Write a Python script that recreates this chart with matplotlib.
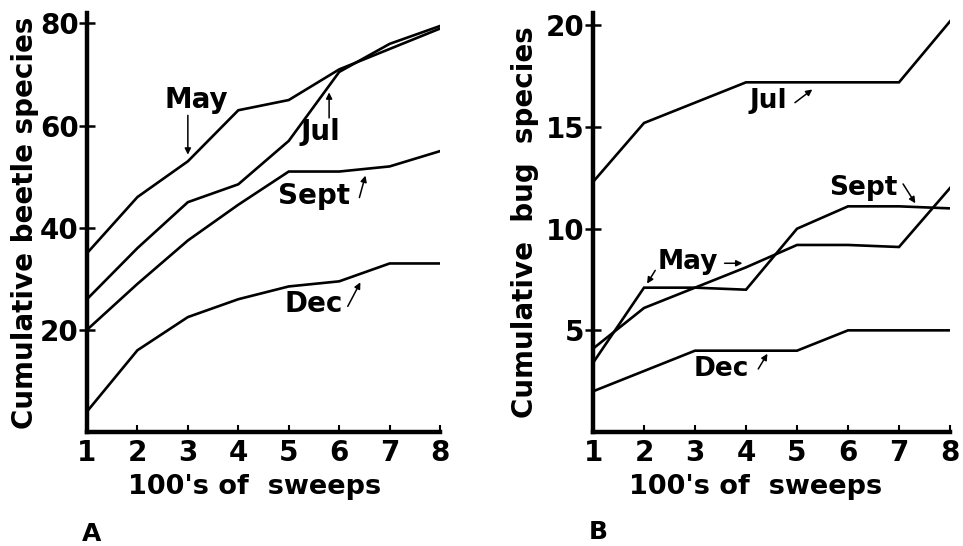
import matplotlib
matplotlib.use("Agg")
import matplotlib.pyplot as plt

plt.rcParams['font.family'] = ['DejaVu Sans']
plt.rcParams['font.weight'] = 'bold'

sweeps = [1, 2, 3, 4, 5, 6, 7, 8]

# Panel A: cumulative beetle species
beetle_may = [35, 46, 53, 63, 65, 71, 75, 79]
beetle_jul = [26, 36, 45, 48.5, 57, 70.5, 76, 79.5]
beetle_sept = [20, 29, 37.5, 44.5, 51, 51, 52, 55]
beetle_dec = [4, 16, 22.5, 26, 28.5, 29.5, 33, 33]

# Panel B: cumulative bug species
bug_jul = [12.3, 15.2, 16.2, 17.2, 17.2, 17.2, 17.2, 20.2]
bug_sept = [3.4, 7.1, 7.1, 7.0, 10, 11.1, 11.1, 11.0]
bug_may = [4.1, 6.1, 7.1, 8.1, 9.2, 9.2, 9.1, 12.0]
bug_dec = [2, 3, 4, 4, 4, 5, 5, 5]

beetle_yticks = [20, 40, 60, 80]
bug_yticks = [5, 10, 15, 20]

fig = plt.figure(figsize=(9.63, 5.46), dpi=100)
axA = fig.add_axes([0.0903, 0.2088, 0.3667, 0.767])
axB = fig.add_axes([0.6158, 0.2088, 0.3707, 0.767])

LW = 1.9

def style(ax, yticks, ylim, ylabel, labx):
    ax.set_xlim(1, 8)
    ax.set_ylim(0, ylim)
    for s in ['top', 'right']:
        ax.spines[s].set_visible(False)
    for s in ['left', 'bottom']:
        ax.spines[s].set_linewidth(3.2)
    ax.set_xticks(sweeps)
    ax.set_xticklabels([str(v) for v in sweeps])
    ax.set_yticks(yticks)
    ax.set_yticklabels([str(v) for v in yticks])
    ax.tick_params(axis='x', direction='in', length=5, width=1.5, pad=5,
                   labelsize=20)
    ax.tick_params(axis='y', direction='inout', length=12, width=1.8, pad=0,
                   labelsize=20)
    for t in ax.get_xticklabels() + ax.get_yticklabels():
        t.set_fontweight('bold')
    ax.set_ylabel(ylabel, fontsize=20, fontweight='bold')
    ax.yaxis.set_label_coords(labx, 0.5)
    ax.set_xlabel("100's of  sweeps", fontsize=19.5, fontweight='bold')

def arrow(ax, tail, head):
    ax.annotate('', xy=head, xytext=tail,
                arrowprops=dict(arrowstyle='-|>', lw=1.1, color='black',
                                mutation_scale=9, shrinkA=0, shrinkB=0))

# Panel A
for ys in [beetle_may, beetle_jul, beetle_sept, beetle_dec]:
    axA.plot(sweeps, ys, color='black', lw=LW, solid_joinstyle='miter')
style(axA, beetle_yticks, 82, 'Cumulative beetle species', -0.135)
axA.xaxis.set_label_coords(0.476, -0.1)
fs = 20
axA.text(3.17, 65.1, 'May', fontsize=fs, fontweight='bold', ha='center', va='center')
arrow(axA, (3.0, 62), (3.0, 54.3))
axA.text(5.63, 58.8, 'Jul', fontsize=fs, fontweight='bold', ha='center', va='center')
arrow(axA, (5.8, 61.5), (5.8, 66.5))
axA.text(5.5, 46.2, 'Sept', fontsize=fs, fontweight='bold', ha='center', va='center')
arrow(axA, (6.4, 45.9), (6.52, 50.2))
axA.text(5.5, 25.0, 'Dec', fontsize=fs, fontweight='bold', ha='center', va='center')
arrow(axA, (6.17, 24.6), (6.42, 29.3))

# Panel B
for ys in [bug_jul, bug_sept, bug_may, bug_dec]:
    axB.plot(sweeps, ys, color='black', lw=LW, solid_joinstyle='miter')
style(axB, bug_yticks, 20.6, 'Cumulative  bug  species', -0.15)
axB.xaxis.set_label_coords(0.454, -0.1)
fs2 = 19
axB.text(4.43, 16.3, 'Jul', fontsize=fs2, fontweight='bold', ha='center', va='center')
arrow(axB, (4.96, 16.2), (5.3, 16.85))
axB.text(6.3, 12.0, 'Sept', fontsize=fs2, fontweight='bold', ha='center', va='center')
arrow(axB, (7.08, 12.2), (7.32, 11.25))
axB.text(2.86, 8.34, 'May', fontsize=fs2, fontweight='bold', ha='center', va='center')
arrow(axB, (3.58, 8.3), (3.93, 8.3))
arrow(axB, (2.22, 7.95), (2.06, 7.3))
axB.text(3.52, 3.1, 'Dec', fontsize=fs2, fontweight='bold', ha='center', va='center')
arrow(axB, (4.24, 3.1), (4.42, 3.85))

fig.text(92 / 963, 1 - 534 / 546, 'A', fontsize=18, fontweight='bold', ha='center', va='center')
fig.text(598 / 963, 1 - 532 / 546, 'B', fontsize=18, fontweight='bold', ha='center', va='center')

fig.savefig('out.png', dpi=100)
